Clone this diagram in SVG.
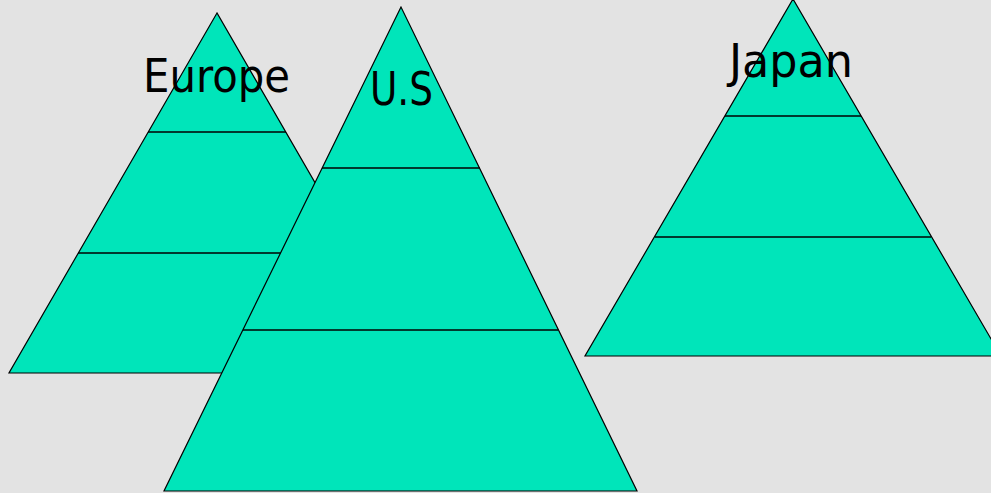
<svg xmlns="http://www.w3.org/2000/svg" width="991" height="493" viewBox="0 0 991 493">
<style>
.tri{fill:#00e5ba;stroke:#000;stroke-width:1.2;stroke-linejoin:miter}
.div{stroke:#000;stroke-width:1.4}
.lbl{font-family:"DejaVu Sans",Tahoma,Verdana,sans-serif;font-size:47px;fill:#000}
</style>
<rect width="991" height="493" fill="#e3e3e3"/>
<g id="europe">
<polygon class="tri" points="217,13 9,373 425,373"/>
<line class="div" x1="148" y1="132" x2="286" y2="132"/>
<line class="div" x1="78" y1="253" x2="356" y2="253"/>
<text class="lbl" x="143" y="92" textLength="147" lengthAdjust="spacingAndGlyphs">Europe</text>
</g>
<g id="us">
<polygon class="tri" points="401,7 164,491 637,491"/>
<line class="div" x1="322" y1="168" x2="480" y2="168"/>
<line class="div" x1="243" y1="330" x2="558" y2="330"/>
<text class="lbl" x="370" y="105" textLength="63" lengthAdjust="spacingAndGlyphs">U.S</text>
</g>
<g id="japan">
<polygon class="tri" points="793,-1 585,356 1001,356"/>
<line class="div" x1="725" y1="116" x2="861" y2="116"/>
<line class="div" x1="655" y1="237" x2="931" y2="237"/>
<text class="lbl" x="729" y="77" textLength="124" lengthAdjust="spacingAndGlyphs">Japan</text>
</g>
<g id="connectors"/>
</svg>
